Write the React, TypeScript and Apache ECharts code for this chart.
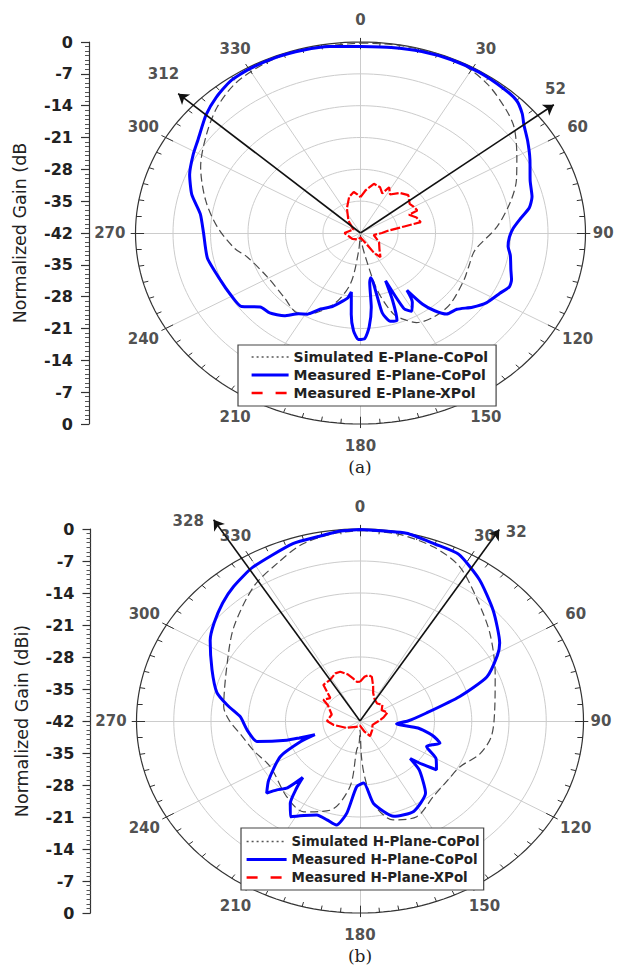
import React, { useEffect, useRef } from "react";
import * as echarts from "echarts";

// ---------- data: [angle (deg), normalized gain (dB)] ----------
const ANGLE_TICKS = [0, 30, 60, 90, 120, 150, 180, 210, 240, 270, 300, 330];
const ANGLE_LABELS = ["0", "30", "60", "90", "120", "150", "180", "210", "240", "270", "300", "330"];
const RING_LEVELS = [-35, -28, -21, -14, -7];

const simE: number[][] = [
  [0, -0.2], [10, -0.1], [20, -0.1], [27, -0.3], [36, -1.6], [45, -3.6], [51, -5.1], [60, -8.3],
  [68, -10.6], [76, -13.1], [87, -16.5], [100, -20.3], [110, -20.5], [118, -20.1], [133, -19.1],
  [143, -19], [152, -19.7], [156, -21], [161, -23.2], [166, -29], [170, -36.6], [175, -40],
  [180, -41.5], [185, -38], [189.5, -30.7], [197.7, -25.6], [209, -21.6], [215, -20.8], [225, -21.9],
  [241, -22.1], [256, -20.2], [262, -18.2], [273, -15.2], [284, -12.2], [296, -8.8], [307, -6],
  [316, -3.5], [325, -1.6], [335, -0.6], [345, -0.2], [360, -0.2],
];
const measE: number[][] = [
  [0, -1.0], [8, -0.8], [16, -0.5], [24, -0.3], [32, -0.3], [40, -0.5], [45, -0.8], [49, -2.0],
  [52, -3.3], [57, -4.8], [63, -6.5], [70, -8.3], [76, -9.0], [80, -10.0], [84, -12], [88, -13.5],
  [92, -14.2], [96, -14.3], [100, -13.6], [106, -12.8], [110, -12.0], [113, -11.8], [117, -12.8],
  [123, -13.9], [128, -15.5], [133, -17.4], [138, -18.0], [141, -20.0], [143.5, -22.5], [145.5, -26.7],
  [147.5, -24.0], [151, -22.3], [154, -23.5], [156, -30.5], [158, -26], [160.5, -21.6], [164, -21.8],
  [167, -24], [169, -32], [171, -31], [173, -25.5], [175.5, -21.3], [178, -18.8], [181, -18.6],
  [183.5, -20.5], [185.5, -24], [187.5, -28.9], [189.5, -27.5], [192, -26.8], [198, -25], [204, -23.7],
  [209, -21.6], [213, -20.8], [218, -18.9], [224, -17.6], [229, -17.2], [234, -14.5], [241, -14.2],
  [248, -13.9], [259, -12.9], [270, -12.7], [278, -11.8], [285, -9.4], [292, -7.6], [299, -6.3],
  [304, -5.4], [312, -3.2], [318, -1.8], [324, -0.7], [330, -0.4], [338, -0.3], [345, -0.4],
  [352, -0.6], [360, -1.0],
];
const xpolE: number[][] = [
  [0, -34.1], [6, -32.5], [13, -30.9], [20, -31.3], [25, -32.4], [28, -30.6], [33, -31.9], [40, -30.5],
  [47, -29.8], [55, -30.8], [60, -30.5], [65, -30.3], [66, -32.1], [72, -31], [78, -30.5], [80, -33.7],
  [85, -37], [90, -38], [100, -39.5], [120, -38], [135, -37], [145, -35.5], [150, -37], [160, -40],
  [180, -41], [200, -40.5], [230, -40], [260, -39.5], [270, -39], [285, -40], [300, -40.5],
  [320, -38.5], [335, -36], [345, -33.8], [352, -32.9], [356, -33.5], [360, -34.1],
];

const simH: number[][] = [
  [0, -0.3], [10, -0.5], [20, -1.5], [29, -3.4], [40, -7.6], [52, -11], [68, -14.6], [85, -16.6],
  [98, -17.1], [108, -18.4], [118, -20.7], [130, -21], [140, -20.5], [153, -18.5], [164, -19.5],
  [172, -23.8], [176, -30], [178, -34.2], [180, -40], [182, -37], [185.6, -35.6], [187.5, -27.5],
  [196, -21.7], [208, -19.5], [220, -20.5], [239, -22.4], [252, -21], [262, -19.5], [270, -17.5],
  [277, -16.2], [297, -14], [311, -10.6], [326, -6.4], [336, -4.1], [344, -1.9], [352, -0.8], [360, -0.3],
];
const measH: number[][] = [
  [0, -0.1], [12, 0], [20, -0.8], [27, -1.1], [36, -3.8], [46, -7.2], [57, -10.7], [61, -12.5],
  [68, -16.3], [74, -22.5], [82, -29.4], [90, -33], [95, -35.1], [98, -31], [103, -28], [108, -26.2],
  [111, -27.5], [114, -28.3], [120, -25.5], [126.6, -24.1], [129, -27], [131, -29.5], [134, -26.5],
  [142, -22], [153, -19.8], [163, -20.2], [172, -23.8], [177, -28.4], [182.5, -27.6], [187, -21.7],
  [191, -18.8], [196, -19.5], [201.5, -19.9], [207, -18.8], [212, -17.3], [216, -19.7], [219, -23],
  [221, -25.6], [223, -22], [226, -20.3], [228, -18.4], [233, -20.5], [242.5, -25.1], [248, -30],
  [250.5, -33], [252, -30], [253, -27.6], [257, -22.1], [264, -20.8], [269, -20.1], [272.4, -19.5],
  [278, -16.8], [283, -14.4], [292, -12], [302, -8.8], [308, -7.2], [315, -5.5], [321, -4.2],
  [329, -2.8], [342, -1.2], [349, -0.9], [355, -0.3], [360, -0.1],
];
const xpolH: number[][] = [
  [0, -33.4], [5, -32.3], [9, -31.8], [13, -32.1], [18, -34], [22, -35.4], [30, -36.5], [40, -37],
  [50, -36.5], [60, -37.3], [70, -36.5], [80, -37.5], [90, -38.5], [110, -39.5], [130, -39],
  [150, -38.2], [160, -39.5], [180, -41], [210, -40.5], [240, -39], [260, -37], [270, -35.8],
  [285, -36.5], [300, -35], [304, -33.7], [312, -34.5], [319, -31.5], [328, -31.4], [336, -30.6],
  [341, -30.6], [347, -31.5], [352, -32.6], [356, -33.4], [360, -33.4],
];

const ARROWS_E = [312, 52];
const ARROWS_H = [328, 32];

// ---------- helpers ----------
const toXY = (a: number, db: number) => {
  const r = Math.max(0, db + 42);
  const t = (a * Math.PI) / 180;
  return [r * Math.sin(t), r * Math.cos(t)];
};
const circle = (db: number) => {
  const pts: number[][] = [];
  for (let a = 0; a <= 360; a += 2) pts.push(toXY(a, db));
  return pts;
};
// distance (in dB units) of angle labels outside the outer ring
const labelOffset = (a: number) => (a === 90 ? 3.3 : 4.8);

const FONT = "DejaVu Sans";

type PlotCfg = {
  idx: number;
  grid: { left: number; top: number; width: number; height: number };
  axisOffset: number;
  axisName: string;
  names: [string, string, string];
  sim: number[][];
  meas: number[][];
  xpol: number[][];
  arrows: number[];
  arrowLen: number[];
  arrowLabelPos: number[][];
  legend: { left: number; top: number; padding: number[]; itemWidth: number; itemGap: number; fontSize: number };
};

function buildPlot(c: PlotCfg) {
  const ax = { xAxisIndex: c.idx, yAxisIndex: c.idx };
  const ticks: any[] = [];
  for (let a = 0; a < 360; a += 5) {
    if (a % 30 === 0) ticks.push({ coords: [toXY(a, -1.6), toXY(a, 0.9)] });
    else ticks.push({ coords: [toXY(a, -1.0), toXY(a, 0)] });
  }
  const series: any[] = [
    {
      type: "lines", coordinateSystem: "cartesian2d", ...ax, polyline: true, silent: true, clip: false, z: 1,
      lineStyle: { color: "#cccccc", width: 1, opacity: 1 },
      data: RING_LEVELS.map((db) => ({ coords: circle(db) })),
    },
    {
      type: "lines", coordinateSystem: "cartesian2d", ...ax, silent: true, clip: false, z: 1,
      lineStyle: { color: "#cccccc", width: 1, opacity: 1 },
      data: ANGLE_TICKS.map((a) => ({ coords: [toXY(a, -42), toXY(a, 0)] })),
    },
    {
      type: "lines", coordinateSystem: "cartesian2d", ...ax, polyline: true, silent: true, clip: false, z: 2,
      lineStyle: { color: "#333", width: 1.2, opacity: 1 },
      data: [{ coords: circle(0) }],
    },
    {
      type: "lines", coordinateSystem: "cartesian2d", ...ax, silent: true, clip: false, z: 2,
      lineStyle: { color: "#333", width: 1, opacity: 1 },
      data: ticks,
    },
    {
      name: c.names[0], type: "line", ...ax, symbol: "none", showSymbol: false, clip: false, z: 3,
      smooth: 0.3, silent: true,
      itemStyle: { color: "#555" },
      lineStyle: { color: "#4a4a4a", width: 1.2, type: [8, 4] },
      data: c.sim.map(([a, db]) => toXY(a, db)),
    },
    {
      name: c.names[1], type: "line", ...ax, symbol: "none", showSymbol: false, clip: false, z: 4,
      smooth: 0.2, silent: true,
      itemStyle: { color: "#0000ff" },
      lineStyle: { color: "#0000ff", width: 3 },
      data: c.meas.map(([a, db]) => toXY(a, db)),
    },
    {
      name: c.names[2], type: "line", ...ax, symbol: "none", showSymbol: false, clip: false, z: 5,
      silent: true,
      itemStyle: { color: "#ff0000" },
      lineStyle: { color: "#ff0000", width: 2.2, type: [10, 2] },
      data: c.xpol.map(([a, db]) => toXY(a, db)),
    },
    {
      type: "lines", coordinateSystem: "cartesian2d", ...ax, silent: true, clip: false, z: 6,
      symbol: ["none", "arrow"], symbolSize: 10,
      lineStyle: { color: "#111", width: 1.6, opacity: 1 },
      data: c.arrows.map((a, i) => ({ coords: [[0, 0], toXY(a, c.arrowLen[i])] })),
    },
    {
      type: "scatter", ...ax, silent: true, clip: false, symbolSize: 1, z: 7,
      itemStyle: { color: "rgba(0,0,0,0)" },
      label: {
        show: true, position: "inside", formatter: "{b}",
        fontFamily: FONT, fontWeight: "bold", fontSize: 15, color: "#222",
      },
      data: [
        ...ANGLE_TICKS.map((a, i) => ({ name: ANGLE_LABELS[i], value: toXY(a, labelOffset(a)) })),
        ...c.arrows.map((a, i) => ({ name: String(a), value: toXY(c.arrowLabelPos[i][0], c.arrowLabelPos[i][1]) })),
      ],
    },
  ];

  const grid = { ...c.grid, containLabel: false };
  const xAxis = { gridIndex: c.idx, type: "value", min: -42, max: 42, show: false };
  const yAxis = {
    gridIndex: c.idx, type: "value", min: -42, max: 42, interval: 7, position: "left", offset: c.axisOffset,
    axisLine: { show: true, onZero: false, lineStyle: { color: "#333", width: 1.2 } },
    axisTick: { show: true, length: 8, lineStyle: { color: "#333", width: 1.2 } },
    minorTick: { show: true, splitNumber: 7, length: 4, lineStyle: { color: "#555" } },
    splitLine: { show: false },
    axisLabel: {
      formatter: (v: number) => String(Math.round(Math.abs(v) - 42)),
      fontFamily: FONT, fontWeight: "bold", fontSize: 16, color: "#222", margin: 16,
    },
    name: c.axisName, nameLocation: "middle", nameRotate: 90, nameGap: 60,
    nameTextStyle: { fontFamily: FONT, fontSize: 17.5, color: "#222" },
  };
  const legend = {
    left: c.legend.left, top: c.legend.top, orient: "vertical",
    data: [
      { name: c.names[0], lineStyle: { type: [2, 3], width: 1.5, color: "#555" } },
      { name: c.names[1], lineStyle: { type: "solid", width: 3.2, color: "#0000ff" } },
      { name: c.names[2], lineStyle: { type: [11, 13], width: 2.6, color: "#ff0000" } },
    ],
    itemWidth: c.legend.itemWidth, itemHeight: 14, itemGap: c.legend.itemGap,
    itemStyle: { opacity: 0 },
    padding: c.legend.padding, borderColor: "#444", borderWidth: 1.2, borderRadius: 0,
    backgroundColor: "#fff", selectedMode: false, z: 10,
    textStyle: { fontFamily: FONT, fontWeight: "bold", fontSize: c.legend.fontSize, color: "#222" },
  };
  return { grid, xAxis, yAxis, series, legend };
}

export default function App() {
  const ref = useRef<HTMLDivElement>(null);
  useEffect(() => {
    if (!ref.current) return;
    const chart = echarts.init(ref.current, undefined, { renderer: "svg" });
    const a = buildPlot({
      idx: 0,
      grid: { left: 135.5, top: 42, width: 450, height: 382 },
      axisOffset: 46.5,
      axisName: "Normalized Gain (dB",
      names: ["Simulated E-Plane-CoPol", "Measured E-Plane-CoPol", "Measured E-Plane-XPol"],
      sim: simE, meas: measE, xpol: xpolE,
      arrows: ARROWS_E, arrowLen: [3.8, 3.8],
      arrowLabelPos: [[313.6, 8.8], [48.9, 6.3]],
      legend: { left: 238, top: 345, padding: [5, 8, 6, 12], itemWidth: 37, itemGap: 4, fontSize: 14 },
    });
    const b = buildPlot({
      idx: 1,
      grid: { left: 136.5, top: 529, width: 447, height: 384 },
      axisOffset: 46,
      axisName: "Normalized Gain (dBi)",
      names: ["Simulated H-Plane-CoPol", "Measured H-Plane-CoPol", "Measured H-Plane-XPol"],
      sim: simH, meas: measH, xpol: xpolH,
      arrows: ARROWS_H, arrowLen: [9.9, 7.4],
      arrowLabelPos: [[323.6, 12.4], [35.4, 8.7]],
      legend: { left: 241, top: 828, padding: [7, 4, 6, 4], itemWidth: 40, itemGap: 5, fontSize: 13.4 },
    });
    chart.setOption({
      animation: false,
      backgroundColor: "#fff",
      grid: [a.grid, b.grid],
      xAxis: [a.xAxis, b.xAxis],
      yAxis: [a.yAxis, b.yAxis],
      legend: [a.legend, b.legend],
      series: [...a.series, ...b.series],
      graphic: [
        { type: "text", x: 360, y: 467, style: { text: "(a)", fontFamily: "DejaVu Serif", fontSize: 17, fill: "#222", align: "center", verticalAlign: "middle" } },
        { type: "text", x: 360, y: 956, style: { text: "(b)", fontFamily: "DejaVu Serif", fontSize: 17, fill: "#222", align: "center", verticalAlign: "middle" } },
      ],
    });
    return () => chart.dispose();
  }, []);
  return (
    <div
      ref={ref}
      style={{ position: "absolute", left: 0, top: 0, width: 617, height: 969, background: "#fff" }}
    />
  );
}
